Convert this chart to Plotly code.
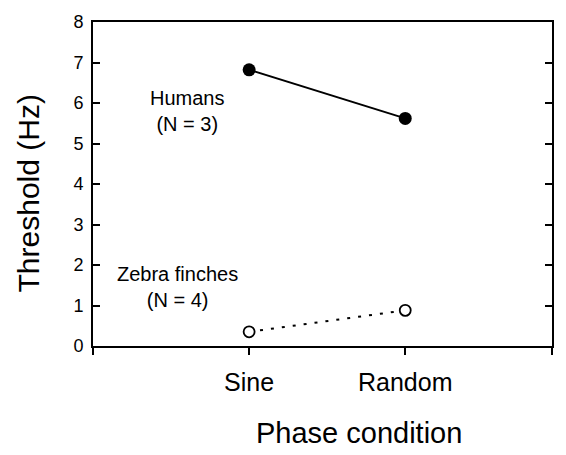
import plotly.graph_objects as go

categories = ["Sine", "Random"]
humans = [6.82, 5.62]
finches = [0.35, 0.88]
y_ticks = [0, 1, 2, 3, 4, 5, 6, 7, 8]

xpos = [i + 1 for i in range(len(categories))]
XMAX = 2.94
FONT = "Liberation Sans, Arial, Helvetica, sans-serif"

fig = go.Figure()
fig.add_trace(go.Scatter(
    x=xpos, y=humans, mode="lines+markers",
    line=dict(color="black", width=2),
    marker=dict(color="black", size=13, symbol="circle"),
    showlegend=False, cliponaxis=False))
fig.add_trace(go.Scatter(
    x=xpos, y=finches, mode="lines+markers",
    line=dict(color="black", width=2, dash="3px,8px"),
    marker=dict(color="white", size=11, symbol="circle",
                line=dict(color="black", width=1.8)),
    showlegend=False, cliponaxis=False))

fig.add_annotation(x=0.6, y=5.8, xref="x", yref="y",
                   text="Humans<br>(N = 3)", showarrow=False,
                   font=dict(size=20, color="black", family=FONT))
fig.add_annotation(x=0.54, y=1.46, xref="x", yref="y",
                   text="Zebra finches<br>(N = 4)", showarrow=False,
                   font=dict(size=20, color="black", family=FONT))

# axis titles
fig.add_annotation(x=(360 - 93) / (566 - 93 - 12), y=-0.27, xref="paper", yref="paper",
                   text="Phase condition", showarrow=False, yanchor="middle",
                   font=dict(size=29, color="black", family=FONT))
fig.add_annotation(x=-0.14, y=0.47, xref="paper", yref="paper",
                   text="Threshold (Hz)", showarrow=False, textangle=-90,
                   xanchor="center", yanchor="middle",
                   font=dict(size=30, color="black", family=FONT))

fig.update_xaxes(
    range=[0, XMAX], tickvals=[0] + xpos + [XMAX],
    ticktext=[""] + categories + [""],
    ticks="outside", ticklen=7, tickwidth=1.5, tickcolor="black",
    showline=True, linecolor="black", linewidth=2, mirror=True,
    showgrid=False, zeroline=False, ticklabelstandoff=6,
    tickfont=dict(size=25, color="black", family=FONT))
fig.update_yaxes(
    range=[0, 8], tickvals=y_ticks,
    ticks="inside", ticklen=7, tickwidth=1.5, tickcolor="black",
    showline=True, linecolor="black", linewidth=2, mirror="ticks",
    showgrid=False, zeroline=False, ticklabelstandoff=4,
    tickfont=dict(size=18, color="black", family=FONT))

fig.update_layout(
    width=566, height=455,
    margin=dict(l=93, r=12, t=16, b=109),
    paper_bgcolor="white", plot_bgcolor="white",
    font=dict(family=FONT, color="black"))

fig.write_html("out.html")
